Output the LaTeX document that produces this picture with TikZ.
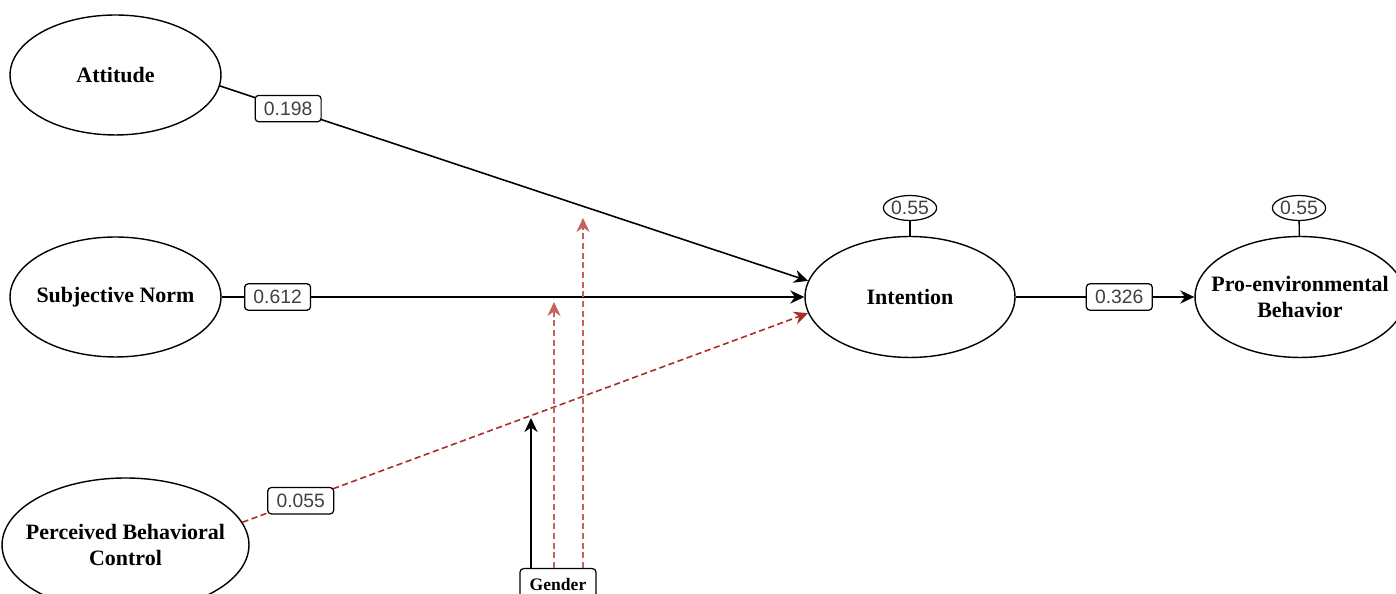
\documentclass[tikz,border=0pt]{standalone}
\usepackage{fontspec}
\setmainfont{Liberation Serif}
\setsansfont{Liberation Sans}
\usetikzlibrary{arrows.meta,shapes.geometric}
\definecolor{modred}{RGB}{170,45,40}
\definecolor{modpink}{RGB}{196,100,95}
\definecolor{numgray}{RGB}{64,64,64}

\begin{document}
\begin{tikzpicture}[x=0.02cm, y=0.02cm, >={Stealth[length=8pt,width=7.5pt]},
    construct/.style={draw, ellipse, line width=0.8pt, inner sep=0pt,
        minimum width=4.22cm, minimum height=2.4cm,
        label={[align=center, font=\fontsize{12.5}{14.5}\selectfont\bfseries]center:#1}},
    coef/.style={draw=black, fill=white, solid, rounded corners=2pt, line width=0.7pt,
        inner xsep=5pt, inner ysep=0pt, minimum height=15pt, text=numgray,
        font=\fontsize{11}{13}\selectfont\sffamily},
    rsq/.style={draw, ellipse, line width=0.7pt, inner sep=0pt,
        minimum width=0.94cm, minimum height=0.5cm, text=numgray,
        font=\fontsize{11}{13}\selectfont\sffamily},
    effect/.style={->, line width=0.9pt},
    moderated/.style={->, line width=0.9pt, dash pattern=on 3.5pt off 2pt}]
    \useasboundingbox (0,0) rectangle (1396,594);
    % constructs
    \node[construct=Attitude] (att) at (115.5,519) {};
    \node[construct={Subjective Norm}] (sn) at (115.5,297) {};
    \node[construct={Perceived Behavioral\\Control}, minimum width=4.94cm, minimum height=2.68cm] (pbc) at (125.5,49) {};
    \node[construct=Intention, minimum width=4.2cm, minimum height=2.42cm] (int) at (910,297) {};
    \node[construct={Pro-environmental\\Behavior}, minimum width=4.2cm, minimum height=2.42cm] (pro) at (1300,297) {};
    \node[rsq] (r2int) at (910,386) {0.55};
    \node[rsq] (r2pro) at (1299,386) {0.55};
    \node[draw, rounded corners=2pt, line width=0.7pt, anchor=north, minimum width=1.52cm,
        minimum height=0.62cm, font=\fontsize{10}{12}\selectfont\bfseries] (gen) at (558,26) {Gender};
    % paths
    \draw[effect] (att.-6.5) -- node[coef, pos=0.116] (c1) {0.198} (int.171);
    \draw[effect] (sn.east) -- node[coef, pos=0.096] (c2) {0.612} (int.west);
    \draw[moderated, modred] (pbc.11) -- node[coef, pos=0.103] (c3) {0.055} (int.189);
    \draw[effect] (int.east) -- node[coef, pos=0.58] (c4) {0.326} (pro.west);
    \draw[line width=0.8pt] (r2int) -- (int);
    \draw[line width=0.8pt] (r2pro) -- (pro);
    % gender
    \coordinate (gtip1) at (531,176);
    \coordinate (gtip2) at (554,292);
    \coordinate (gtip3) at (583,376);
    \draw[effect] (gen.north -| gtip1) -- (gtip1);
    \draw[moderated, modpink, line width=0.6pt] (gen.north -| gtip2) -- (gtip2);
    \draw[moderated, modpink, line width=0.6pt] (gen.north -| gtip3) -- (gtip3);
\end{tikzpicture}
\end{document}
